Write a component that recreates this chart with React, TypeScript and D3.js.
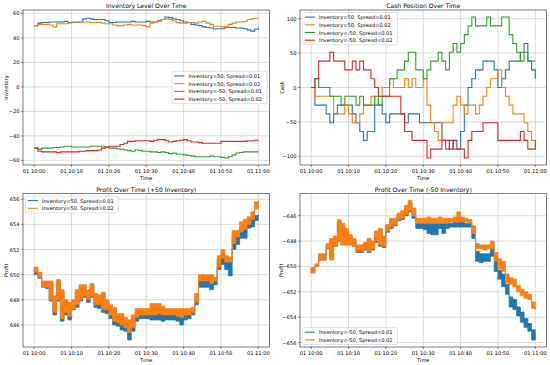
import React from "react";
import * as d3 from "d3";

// tab10 colours, in plotting order
const BLUE = "#1f77b4";
const ORANGE = "#ff7f0e";
const GREEN = "#2ca02c";
const RED = "#d62728";

// minutes after 10:00 for the tick marks, and their labels
const timeTicks = [0, 10, 20, 30, 40, 50, 60];
const timeLabels = ["01 10:00", "01 10:10", "01 10:20", "01 10:30", "01 10:40", "01 10:50", "01 11:00"];

const labels = {
  long01: "Inventory=50, Spread=0.01",
  long02: "Inventory=50, Spread=0.02",
  short01: "Inventory=-50, Spread=0.01",
  short02: "Inventory=-50, Spread=0.02",
};

// --- inventory, one value per minute ---
const invLong01 = [50, 52, 52.5, 52.5, 53, 53, 53, 53, 53.5, 52.5, 52.5, 52.5, 53, 55.5, 56, 55.5, 55, 55, 55, 54, 52.5, 52.5, 53, 53, 53, 53, 53.5, 53, 53, 53, 53.5, 53, 53, 54, 55, 57, 56.5, 55.5, 55, 54, 53, 52.5, 51, 50.5, 50, 49, 48.5, 48, 47.5, 47.5, 47.5, 48.5, 48.5, 48.5, 48, 48, 47.5, 46.5, 45.5, 47, 48.5];
const invLong02 = [50, 51, 51, 51, 50.5, 49, 51.5, 51.5, 51.5, 52, 53, 53, 53, 53, 53, 52.5, 52.5, 52.5, 52, 51.5, 51.5, 50.5, 50, 50, 50.5, 51, 50.5, 50.5, 50.5, 50, 49, 52, 52.5, 53.5, 55, 55.5, 55, 54, 52.5, 52, 52, 52.5, 52.5, 52, 53, 53.5, 52, 51, 49.5, 49.5, 49, 49.5, 51, 52, 53, 53, 53.5, 55, 55.5, 56, 56];
const invShort01 = [-50, -51, -50, -50, -50, -49.5, -49.5, -49, -48.5, -48.5, -49, -49, -49, -49, -49, -48.5, -48.5, -48.5, -48.5, -49.5, -50, -50, -50.5, -51, -51.5, -52, -52.5, -51.5, -52, -52.5, -52.5, -53, -53, -53.5, -53, -53.5, -54.5, -54, -55, -55, -55.5, -56, -56.5, -57, -57, -57, -57, -56.5, -57, -57, -57.5, -58, -57, -55.5, -54, -53.5, -53, -53, -53, -53, -53];
const invShort02 = [-50, -52.5, -53, -53, -53, -53, -53.5, -53, -53, -53, -53, -53, -52.5, -52.5, -52, -52, -52, -51.5, -50, -49, -48.5, -48.5, -48.5, -47, -46, -44.5, -44.5, -44, -44, -44, -44, -44.5, -43.5, -43, -43, -44, -45, -44.5, -44, -43.5, -43, -44, -45, -45, -45.5, -46, -46, -46, -46, -46, -44.5, -44.5, -44.5, -44.5, -44.5, -44.5, -44.5, -44, -44, -43.5, -44];

// --- cash, one value per minute ---
const cashLong01 = [0, -25.6, -25.6, -25.6, -38.4, -51.2, -38.4, -25.6, -25.6, -25.6, -25.6, -38.4, -51.2, -64, -76.8, -64, -64, -25.6, -25.6, -38.4, -51.2, -38.4, -38.4, -38.4, -38.4, -51.2, -38.4, -38.4, -38.4, -51.2, -51.2, -51.2, -51.2, -51.2, -51.2, -76.8, -89.6, -76.8, -89.6, -89.6, -64, -25.6, 0, 12.8, 25.6, 25.6, 38.4, 38.4, 38.4, 25.6, 0, 12.8, 25.6, 38.4, 38.4, 38.4, 51.2, 64, 38.4, 25.6, 12.8];
const cashLong02 = [0, -12.8, -12.8, -12.8, -12.8, -12.8, -38.4, -38.4, -38.4, -25.6, -38.4, -51.2, -51.2, -38.4, -25.6, -25.6, -12.8, -25.6, -12.8, 0, 0, 12.8, 0, 0, 0, 12.8, 0, 12.8, 0, 0, 12.8, -25.6, -51.2, -64, -76.8, -51.2, -51.2, -51.2, -25.6, -12.8, -25.6, -38.4, -25.6, -25.6, -38.4, -25.6, -12.8, 0, 12.8, 12.8, 25.6, 0, -12.8, -25.6, -38.4, -38.4, -38.4, -51.2, -64, -76.8, -76.8];
const cashShort01 = [0, 12.8, 0, 0, 0, -12.8, -12.8, -12.8, -25.6, -12.8, -12.8, -12.8, -25.6, -12.8, -25.6, -25.6, -25.6, -12.8, -25.6, -12.8, -12.8, 12.8, 12.8, 25.6, 25.6, 38.4, 51.2, 51.2, 25.6, 25.6, 12.8, 25.6, 38.4, 38.4, 51.2, 38.4, 25.6, 51.2, 64, 51.2, 64, 76.8, 89.6, 102.4, 89.6, 89.6, 89.6, 102.4, 89.6, 89.6, 89.6, 102.4, 102.4, 76.8, 64, 51.2, 38.4, 51.2, 38.4, 38.4, 38.4];
const cashShort02 = [0, 12.8, 38.4, 38.4, 38.4, 51.2, 38.4, 38.4, 38.4, 25.6, 25.6, 38.4, 25.6, 38.4, 25.6, 25.6, 12.8, 0, -12.8, -12.8, -12.8, -12.8, -12.8, -12.8, -38.4, -64, -64, -76.8, -76.8, -76.8, -76.8, -102.4, -89.6, -89.6, -89.6, -76.8, -76.8, -89.6, -76.8, -89.6, -89.6, -102.4, -76.8, -64, -64, -64, -51.2, -51.2, -51.2, -51.2, -76.8, -76.8, -76.8, -76.8, -76.8, -76.8, -64, -76.8, -89.6, -89.6, -76.8];

// --- profit: per minute the low and high of the bid/ask flicker ---
const profitLong01Lo = [650.0, 649.7, 649.0, 648.9, 647.9, 646.8, 647.9, 646.3, 646.8, 646.4, 647.2, 647.4, 647.9, 648.2, 647.8, 648.2, 647.4, 647.3, 647.0, 646.9, 646.5, 646.0, 645.9, 645.6, 645.5, 644.8, 645.5, 646.3, 646.5, 646.5, 646.5, 646.4, 646.4, 646.4, 646.3, 646.4, 646.4, 646.4, 646.3, 646.0, 646.4, 646.5, 646.8, 647.6, 649.0, 649.0, 649.0, 648.8, 649.2, 650.4, 650.8, 650.4, 649.9, 652.0, 652.4, 652.9, 652.9, 653.7, 653.8, 654.3, 654.4];
const profitLong01Hi = [650.4, 650.1, 649.4, 649.4, 649.3, 648.2, 649.4, 648.6, 647.9, 647.6, 647.8, 648.6, 649.0, 649.0, 648.7, 649.1, 648.4, 648.2, 648.4, 647.8, 647.4, 647.2, 646.7, 646.7, 646.4, 646.2, 646.5, 647.0, 647.0, 647.0, 647.0, 647.3, 647.2, 647.2, 647.1, 647.0, 647.0, 647.0, 647.0, 647.0, 647.0, 647.0, 647.2, 648.3, 649.7, 649.6, 649.6, 649.6, 649.6, 651.2, 651.6, 651.2, 651.0, 653.0, 653.0, 653.7, 653.8, 654.1, 654.5, 654.7, 654.8];
const profitLong02Lo = [650.2, 649.8, 649.0, 649.0, 648.0, 647.0, 648.0, 646.5, 647.0, 646.7, 647.3, 647.6, 648.0, 648.3, 648.0, 648.3, 647.6, 647.6, 647.2, 647.2, 646.8, 646.3, 646.2, 646.0, 645.8, 645.4, 645.8, 646.6, 646.8, 646.8, 646.8, 646.8, 646.8, 646.9, 646.8, 646.8, 646.8, 646.8, 646.7, 646.6, 646.8, 646.8, 647.0, 647.8, 649.5, 649.5, 649.5, 649.3, 649.5, 650.6, 651.3, 651.0, 651.0, 652.5, 653.0, 653.4, 653.6, 654.0, 654.4, 655.2, 655.4];
const profitLong02Hi = [650.6, 650.2, 649.5, 649.5, 649.5, 648.3, 649.6, 648.8, 648.0, 647.8, 648.0, 648.8, 649.2, 649.2, 648.8, 649.3, 648.5, 648.4, 648.6, 648.0, 647.6, 647.4, 646.9, 646.9, 646.6, 646.4, 646.8, 647.3, 647.3, 647.3, 647.3, 647.7, 647.7, 647.7, 647.5, 647.3, 647.3, 647.3, 647.3, 647.3, 647.3, 647.3, 647.4, 648.5, 650.0, 650.0, 650.0, 650.0, 649.8, 651.5, 652.0, 651.5, 651.4, 653.5, 653.5, 654.2, 654.4, 654.6, 655.0, 655.8, 655.9];

const profitShort01Lo = [-650.5, -650.0, -649.5, -649.5, -648.6, -649.4, -648.4, -648.0, -648.3, -648.3, -648.3, -648.4, -648.9, -648.9, -648.7, -648.9, -648.7, -648.1, -648.4, -648.5, -647.3, -647.0, -646.8, -646.4, -646.3, -646.0, -645.7, -646.2, -647.0, -647.0, -647.1, -647.4, -647.5, -647.5, -647.0, -647.4, -647.0, -646.9, -646.9, -646.9, -646.9, -646.9, -646.9, -647.8, -649.6, -649.7, -649.6, -649.6, -649.2, -650.4, -651.0, -651.6, -652.2, -653.2, -653.4, -653.9, -654.4, -654.8, -655.1, -655.8, -655.8];
const profitShort01Hi = [-650.1, -649.9, -649.1, -649.1, -648.3, -647.9, -647.7, -646.5, -646.8, -647.2, -647.6, -647.9, -648.4, -648.4, -648.2, -647.9, -648.1, -647.3, -647.1, -647.7, -646.8, -646.4, -646.3, -645.9, -645.7, -645.3, -645.0, -645.5, -646.4, -646.5, -646.5, -646.6, -646.6, -646.6, -646.6, -646.6, -646.6, -646.6, -646.5, -646.3, -646.5, -646.6, -646.6, -647.1, -648.8, -649.0, -649.0, -649.0, -648.6, -649.4, -650.3, -650.6, -651.4, -652.4, -652.6, -653.2, -653.6, -654.1, -654.5, -655.0, -655.2];
const profitShort02Lo = [-650.5, -650.0, -649.5, -649.5, -648.6, -649.5, -648.4, -648.0, -648.3, -648.3, -648.3, -648.4, -648.8, -648.8, -648.6, -648.8, -648.6, -648.0, -648.3, -648.4, -647.2, -646.9, -646.7, -646.3, -646.2, -645.9, -645.6, -646.0, -646.6, -646.6, -646.6, -646.6, -646.6, -646.6, -646.6, -646.6, -646.6, -646.5, -646.5, -646.5, -646.5, -646.5, -646.6, -647.4, -648.6, -648.6, -648.7, -648.6, -648.6, -649.6, -650.2, -650.4, -651.3, -651.4, -651.6, -652.0, -652.3, -652.5, -652.6, -653.3, -653.4];
const profitShort02Hi = [-650.1, -649.8, -649.0, -649.0, -648.2, -647.8, -647.6, -646.3, -646.6, -647.0, -647.5, -647.8, -648.3, -648.3, -648.1, -647.8, -648.0, -647.2, -647.0, -647.6, -646.7, -646.2, -646.2, -645.8, -645.6, -645.2, -644.8, -645.4, -646.2, -646.2, -646.2, -646.1, -646.2, -646.2, -646.1, -646.2, -646.2, -646.2, -646.1, -645.7, -646.1, -646.2, -646.3, -646.8, -648.2, -648.3, -648.3, -648.3, -648.0, -648.9, -649.4, -649.6, -650.6, -650.9, -651.0, -651.5, -651.8, -652.0, -652.2, -652.8, -652.9];

const invTicks = [-60, -40, -20, 0, 20, 40, 60];
const cashTicks = [-100, -50, 0, 50, 100];
const profitLongTicks = [646, 648, 650, 652, 654, 656];
const profitShortTicks = [-656, -654, -652, -650, -648, -646];

const FONT = "DejaVu Sans, sans-serif";
const TICK_FS = 5.1;
const TITLE_FS = 6.1;

type Series = { label: string; color: string; values?: number[]; lo?: number[]; hi?: number[] };

interface PanelProps {
  x0: number;
  y0: number;
  w: number;
  h: number;
  title: string;
  ylabel: string;
  ylabelX: number;
  yTicks: number[];
  series: Series[];
  legend: "centerRight" | "upperLeft" | "lowerLeft";
  legendWidth: number;
}

const fmt = (v: number) => (v < 0 ? "\u2212" + Math.abs(v) : String(v));

function Panel({ x0, y0, w, h, title, ylabel, ylabelX, yTicks, series, legend, legendWidth }: PanelProps) {
  const xScale = d3.scaleLinear().domain([-3, 63]).range([x0, x0 + w]);

  // 5% margins, like matplotlib autoscale
  const all = series.flatMap((s) => [...(s.values ?? []), ...(s.lo ?? []), ...(s.hi ?? [])]);
  const [mn, mx] = d3.extent(all) as [number, number];
  const pad = (mx - mn) * 0.05;
  const yScale = d3.scaleLinear().domain([mn - pad, mx + pad]).range([y0 + h, y0]);

  const line = d3
    .line<number>()
    .x((_, i) => xScale(i))
    .y((d) => yScale(d))
    .curve(d3.curveStepAfter);

  // legend box geometry
  const rowH = 7.7;
  const bh = 4 + series.length * 5.2 + (series.length - 1) * 2.5;
  const bx = legend === "centerRight" ? x0 + w - 2.5 - legendWidth : x0 + 2.5;
  const by = legend === "centerRight" ? y0 + h / 2 - bh / 2 : legend === "upperLeft" ? y0 + 2.5 : y0 + h - 2.5 - bh;

  return (
    <g fontFamily={FONT}>
      <defs>
        <clipPath id={`clip-${x0}-${y0}`}>
          <rect x={x0} y={y0} width={w} height={h} />
        </clipPath>
      </defs>

      {/* grid */}
      {timeTicks.map((t) => (
        <line key={"gx" + t} x1={xScale(t)} x2={xScale(t)} y1={y0} y2={y0 + h} stroke="#d6d6d6" strokeWidth={0.9} />
      ))}
      {yTicks.map((t) => (
        <line key={"gy" + t} x1={x0} x2={x0 + w} y1={yScale(t)} y2={yScale(t)} stroke="#d6d6d6" strokeWidth={0.9} />
      ))}

      {/* data */}
      <g clipPath={`url(#clip-${x0}-${y0})`}>
        {series.map((s, k) => {
          if (s.values) {
            return <path key={k} d={line(s.values) ?? ""} fill="none" stroke={s.color} strokeWidth={1.1} />;
          }
          const lo = s.lo!;
          const hi = s.hi!;
          const area = d3
            .area<number>()
            .x((_, i) => xScale(i))
            .y0((_, i) => yScale(lo[i]))
            .y1((_, i) => yScale(hi[i]))
            .curve(d3.curveStepAfter);
          return (
            <path key={k} d={area(lo) ?? ""} fill={s.color} stroke={s.color} strokeWidth={0.8} strokeLinejoin="miter" />
          );
        })}
      </g>

      {/* frame */}
      <rect x={x0} y={y0} width={w} height={h} fill="none" stroke="#222" strokeWidth={0.6} />

      {/* x axis */}
      {timeTicks.map((t, i) => (
        <g key={"xt" + t}>
          <line x1={xScale(t)} x2={xScale(t)} y1={y0 + h} y2={y0 + h + 1.8} stroke="#222" strokeWidth={0.6} />
          <text x={xScale(t)} y={y0 + h + 8.2} fontSize={TICK_FS} textAnchor="middle" fill="#000">
            {timeLabels[i]}
          </text>
        </g>
      ))}
      <text x={x0 + w / 2} y={y0 + h + 15} fontSize={TICK_FS} textAnchor="middle" fill="#000">
        Time
      </text>

      {/* y axis */}
      {yTicks.map((t) => (
        <g key={"yt" + t}>
          <line x1={x0 - 1.8} x2={x0} y1={yScale(t)} y2={yScale(t)} stroke="#222" strokeWidth={0.6} />
          <text x={x0 - 3.4} y={yScale(t)} fontSize={TICK_FS} textAnchor="end" dominantBaseline="central" fill="#000">
            {fmt(t)}
          </text>
        </g>
      ))}
      <text
        transform={`translate(${ylabelX},${y0 + h / 2}) rotate(-90)`}
        fontSize={TICK_FS}
        textAnchor="middle"
        dominantBaseline="central"
        fill="#000"
      >
        {ylabel}
      </text>

      {/* title */}
      <text x={x0 + w / 2} y={y0 - 2} fontSize={TITLE_FS} textAnchor="middle" fill="#000">
        {title}
      </text>

      {/* legend */}
      <rect x={bx} y={by} width={legendWidth} height={bh} rx={1} fill="#fff" fillOpacity={0.8} stroke="#cccccc" strokeWidth={0.6} />
      {series.map((s, k) => {
        const cy = by + 4.6 + k * rowH;
        return (
          <g key={"lg" + k}>
            <line x1={bx + 2.2} x2={bx + 12.4} y1={cy} y2={cy} stroke={s.color} strokeWidth={1.1} />
            <text x={bx + 16.4} y={cy} fontSize={TICK_FS} dominantBaseline="central" fill="#000">
              {s.label}
            </text>
          </g>
        );
      })}
    </g>
  );
}

export default function App() {
  const leftX = 23;
  const rightX = 300;
  const w = 246.5;
  const topY = 10;
  const botY = 193.5;
  const h1 = 155;
  const h2 = 153.5;

  return (
    <svg
      width={550}
      height={365}
      viewBox="0 0 550 365"
      style={{ position: "absolute", left: 0, top: 0, background: "#fff" }}
    >
      <rect width={550} height={365} fill="#fff" />
      <Panel
        x0={leftX}
        y0={topY}
        w={w}
        h={h1}
        title="Inventory Level Over Time"
        ylabel="Inventory"
        ylabelX={5.8}
        yTicks={invTicks}
        legend="centerRight"
        legendWidth={95}
        series={[
          { label: labels.long01, color: BLUE, values: invLong01 },
          { label: labels.long02, color: ORANGE, values: invLong02 },
          { label: labels.short01, color: GREEN, values: invShort01 },
          { label: labels.short02, color: RED, values: invShort02 },
        ]}
      />
      <Panel
        x0={rightX}
        y0={topY}
        w={w}
        h={h1}
        title="Cash Position Over Time"
        ylabel="Cash"
        ylabelX={281.8}
        yTicks={cashTicks}
        legend="upperLeft"
        legendWidth={95}
        series={[
          { label: labels.long01, color: BLUE, values: cashLong01 },
          { label: labels.long02, color: ORANGE, values: cashLong02 },
          { label: labels.short01, color: GREEN, values: cashShort01 },
          { label: labels.short02, color: RED, values: cashShort02 },
        ]}
      />
      <Panel
        x0={leftX}
        y0={botY}
        w={w}
        h={h2}
        title="Profit Over Time (+50 Inventory)"
        ylabel="Profit"
        ylabelX={5.8}
        yTicks={profitLongTicks}
        legend="upperLeft"
        legendWidth={93}
        series={[
          { label: labels.long01, color: BLUE, lo: profitLong01Lo, hi: profitLong01Hi },
          { label: labels.long02, color: ORANGE, lo: profitLong02Lo, hi: profitLong02Hi },
        ]}
      />
      <Panel
        x0={rightX}
        y0={botY}
        w={w}
        h={h2}
        title="Profit Over Time (-50 Inventory)"
        ylabel="Profit"
        ylabelX={280.8}
        yTicks={profitShortTicks}
        legend="lowerLeft"
        legendWidth={95}
        series={[
          { label: labels.short01, color: BLUE, lo: profitShort01Lo, hi: profitShort01Hi },
          { label: labels.short02, color: ORANGE, lo: profitShort02Lo, hi: profitShort02Hi },
        ]}
      />
    </svg>
  );
}
